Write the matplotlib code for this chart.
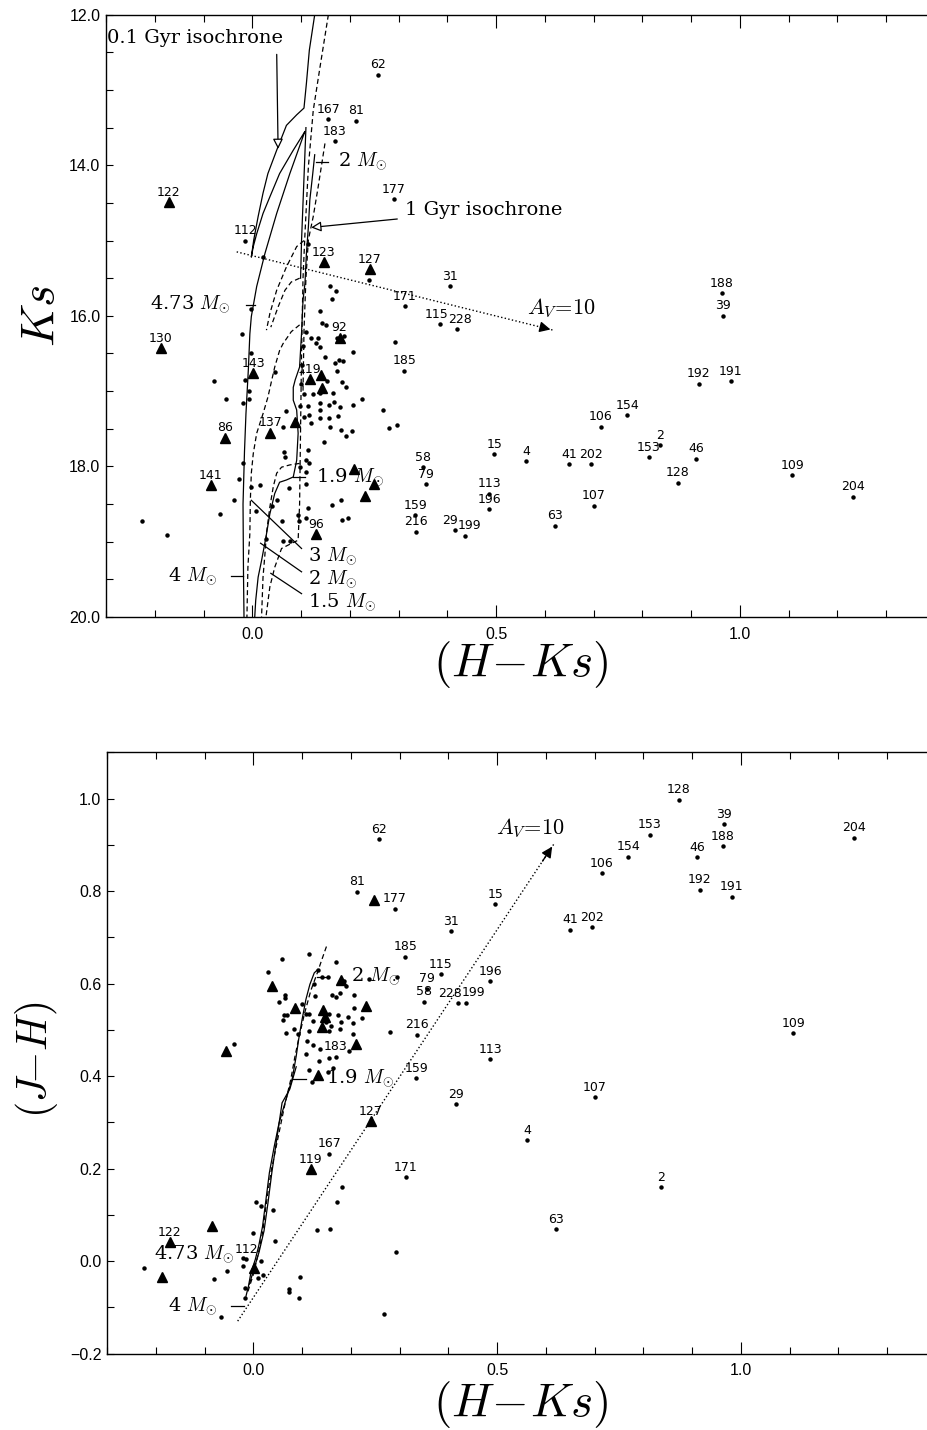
import numpy as np
import matplotlib
matplotlib.use('Agg')
import matplotlib.pyplot as plt
from matplotlib.ticker import MultipleLocator, FuncFormatter

plt.rcParams['mathtext.fontset'] = 'cm'
plt.rcParams['font.family'] = ['Liberation Sans', 'DejaVu Sans']

# labelled stars: id, (H-Ks), Ks, (J-H)  (nan = not labelled in the lower panel)
star_id = ['62', '167', '81', '183', '177', '122', '112', '123', '127', '31',
           '171', '115', '228', '185', '15', '4', '41', '202', '58', '79',
           '113', '196', '107', '63', '159', '216', '29', '199', '106', '154',
           '153', '2', '46', '128', '188', '39', '192', '191', '109', '204',
           '130', '143', '86', '137', '141', '96', '92', '119']
star_hk = [0.258, 0.156, 0.212, 0.169, 0.290, -0.171, -0.014, 0.147, 0.241, 0.405,
           0.313, 0.385, 0.419, 0.312, 0.496, 0.561, 0.650, 0.695, 0.351, 0.357,
           0.486, 0.486, 0.700, 0.621, 0.334, 0.336, 0.416, 0.436, 0.715, 0.769,
           0.813, 0.836, 0.910, 0.873, 0.963, 0.965, 0.916, 0.981, 1.107, 1.231,
           -0.188, 0.002, -0.056, 0.037, -0.085, 0.131, 0.179, 0.118]
star_ks = [12.80, 13.39, 13.41, 13.68, 14.45, 14.49, 15.00, 15.29, 15.38, 15.61,
           15.87, 16.11, 16.18, 16.73, 17.84, 17.93, 17.97, 17.97, 18.01, 18.24,
           18.36, 18.57, 18.52, 18.79, 18.65, 18.87, 18.85, 18.92, 17.47, 17.32,
           17.88, 17.72, 17.90, 18.22, 15.70, 16.00, 16.90, 16.87, 18.12, 18.40,
           16.43, 16.76, 17.62, 17.55, 18.25, 18.90, 16.29, 16.84]
nan = float('nan')
star_jh = [0.912, 0.232, 0.798, 0.442, 0.762, 0.041, 0.004, nan, 0.302, 0.713,
           0.181, 0.620, 0.557, 0.658, 0.771, 0.261, 0.716, 0.722, 0.561, 0.589,
           0.436, 0.605, 0.354, 0.069, 0.395, 0.489, 0.339, 0.558, 0.838, 0.874,
           0.922, 0.159, 0.873, 0.997, 0.897, 0.944, 0.803, 0.788, 0.492, 0.915,
           nan, nan, nan, nan, nan, nan, nan, 0.198]
tri_top = ['122', '123', '127', '130', '143', '92', '119', '86', '137', '141', '96']
tri_bot = ['122', '127', '119']

# unlabelled stars, upper panel (H-Ks, Ks)
top_dots = [(0.021, 15.22), (0.114, 15.04), (0.159, 15.61), (0.171, 15.67), (0.163, 15.78),
            (0.240, 15.53), (-0.003, 15.91), (0.139, 15.94), (0.142, 16.09), (0.152, 16.12),
            (-0.022, 16.24), (-0.002, 16.49), (0.110, 16.22), (0.121, 16.29), (0.135, 16.29),
            (0.130, 16.36), (0.139, 16.41), (0.173, 16.29), (0.181, 16.31), (0.188, 16.27),
            (0.206, 16.48), (0.292, 16.35), (0.150, 16.54), (0.169, 16.62), (0.178, 16.59),
            (0.186, 16.60), (0.173, 16.73), (-0.078, 16.87), (-0.015, 16.85), (0.046, 16.74),
            (0.154, 16.87), (0.183, 16.88), (0.193, 16.94), (-0.007, 17.00), (-0.007, 17.11),
            (-0.054, 17.11), (-0.019, 17.16), (0.106, 17.04), (0.125, 17.04), (0.139, 17.02),
            (0.139, 17.16), (0.166, 17.03), (0.158, 17.18), (0.167, 17.15), (0.180, 17.21),
            (0.206, 17.19), (0.224, 17.11), (0.268, 17.25), (0.281, 17.49), (0.296, 17.45),
            (0.070, 17.27), (0.106, 17.34), (0.115, 17.20), (0.117, 17.32), (0.121, 17.42),
            (0.139, 17.25), (0.139, 17.36), (0.158, 17.36), (0.175, 17.33), (0.159, 17.47),
            (0.182, 17.51), (0.193, 17.59), (0.204, 17.53), (0.147, 17.68), (0.062, 17.47),
            (0.115, 17.78), (0.065, 17.81), (0.067, 17.87), (0.111, 17.92), (0.117, 17.95),
            (0.098, 18.01), (-0.020, 17.95), (-0.027, 18.17), (-0.002, 18.27), (0.015, 18.25),
            (0.076, 18.29), (0.111, 18.08), (0.111, 18.24), (-0.038, 18.45), (-0.067, 18.63),
            (-0.227, 18.73), (-0.175, 18.91), (0.007, 18.59), (0.051, 18.45), (0.060, 18.72),
            (0.096, 18.72), (0.115, 18.55), (0.163, 18.51), (0.181, 18.45), (0.183, 18.71),
            (0.197, 18.69), (0.029, 18.97), (0.062, 18.99), (0.077, 18.99), (0.093, 18.64),
            (0.041, 18.53), (0.111, 18.68), (0.103, 16.40), (0.101, 16.65), (0.099, 16.90),
            (0.097, 17.20)]
top_tris = [(0.140, 16.79), (0.142, 16.96), (0.087, 17.41), (0.209, 18.04), (0.250, 18.24),
            (0.232, 18.39)]

# unlabelled stars, lower panel (H-Ks, J-H)
bot_dots = [(0.115, 0.663), (0.059, 0.654), (0.030, 0.625), (0.170, 0.647), (0.132, 0.629),
            (0.141, 0.614), (0.154, 0.615), (0.125, 0.598), (0.185, 0.606), (0.190, 0.594),
            (0.207, 0.576), (0.177, 0.579), (0.170, 0.571), (0.161, 0.576), (0.127, 0.574),
            (0.064, 0.576), (0.066, 0.568), (0.052, 0.561), (0.100, 0.556), (0.108, 0.535),
            (0.062, 0.532), (0.070, 0.532), (0.060, 0.522), (0.115, 0.535), (0.156, 0.535),
            (0.173, 0.531), (0.194, 0.527), (0.207, 0.548), (0.223, 0.525), (0.122, 0.518),
            (0.149, 0.517), (0.180, 0.517), (0.204, 0.514), (0.159, 0.508), (0.067, 0.494),
            (0.084, 0.501), (0.091, 0.490), (0.115, 0.497), (0.156, 0.497), (0.178, 0.502),
            (0.281, 0.496), (0.204, 0.490), (0.111, 0.475), (0.122, 0.468), (0.137, 0.459),
            (0.196, 0.454), (-0.039, 0.470), (0.135, 0.432), (0.156, 0.439), (0.108, 0.447),
            (0.237, 0.609), (0.295, 0.615), (0.115, 0.414), (0.120, 0.387), (0.153, 0.409),
            (0.163, 0.418), (0.005, 0.127), (0.015, 0.119), (0.041, 0.110), (-0.001, 0.061),
            (0.045, 0.044), (-0.022, 0.007), (-0.021, -0.011), (-0.053, -0.021), (-0.080, -0.039),
            (0.019, -0.031), (0.009, -0.036), (0.016, -0.001), (0.096, -0.035), (0.074, -0.060),
            (0.074, -0.067), (0.093, -0.081), (-0.016, -0.058), (-0.018, -0.080), (-0.066, -0.122),
            (-0.225, -0.016), (0.181, 0.160), (0.172, 0.127), (0.131, 0.067), (0.158, 0.069),
            (0.293, 0.019), (0.269, -0.114)]
bot_tris = [(0.038, 0.594), (0.086, 0.548), (0.142, 0.543), (0.147, 0.528), (0.141, 0.507),
            (0.180, 0.607), (0.231, 0.551), (0.211, 0.470), (0.248, 0.780), (-0.056, 0.455),
            (0.132, 0.403), (-0.084, 0.075), (-0.187, -0.035), (0.002, -0.015)]

# model curves, upper panel (H-Ks, Ks)
iso01 = [(-0.017, 20.0), (-0.018, 19.46), (-0.019, 18.5), (-0.016, 17.8), (-0.013, 17.3),
         (-0.008, 16.7), (-0.005, 16.24), (-0.002, 16.01), (0.009, 15.61), (0.026, 15.17),
         (0.050, 14.64), (0.077, 14.11), (0.104, 13.62), (0.108, 13.55), (0.084, 13.80),
         (0.056, 14.11), (0.036, 14.42), (0.022, 14.64), (0.009, 14.91), (0.002, 15.08),
         (-0.002, 15.22), (0.003, 14.99), (0.012, 14.68), (0.022, 14.37), (0.032, 14.11),
         (0.050, 13.80), (0.070, 13.47), (0.091, 13.33), (0.106, 13.24), (0.111, 12.91),
         (0.117, 12.47), (0.128, 12.0)]
iso01_b = [(0.110, 13.50), (0.107, 14.0), (0.104, 14.5), (0.101, 15.0), (0.099, 15.5)]
iso1 = [(0.128, 13.86), (0.124, 14.11), (0.118, 14.46), (0.115, 14.82), (0.111, 15.17),
        (0.108, 15.57), (0.104, 15.79), (0.101, 16.23), (0.097, 16.68), (0.088, 16.85),
        (0.084, 16.95), (0.084, 17.12), (0.091, 17.25), (0.094, 17.56), (0.091, 17.92),
        (0.084, 18.14), (0.070, 18.18), (0.056, 18.21), (0.046, 18.36), (0.036, 18.63),
        (0.028, 18.94), (0.019, 19.25), (0.012, 19.47), (0.007, 19.78), (0.005, 20.0)]
dash_a = [(0.106, 15.0), (0.091, 15.08), (0.070, 15.35), (0.050, 15.66), (0.036, 15.97),
          (0.029, 16.19)]
dash_b = [(0.097, 15.50), (0.080, 15.55), (0.067, 15.66), (0.053, 15.88), (0.043, 16.06),
          (0.038, 16.15)]
dash_c = [(0.097, 16.12), (0.080, 16.21), (0.063, 16.37), (0.056, 16.46), (0.046, 16.68),
          (0.040, 16.85), (0.032, 17.08), (0.022, 17.30), (0.009, 17.56), (0.002, 17.83),
          (-0.002, 18.09), (-0.004, 18.45), (-0.005, 18.89), (-0.009, 19.34), (-0.011, 20.0)]
dash_d = [(0.097, 17.96), (0.077, 17.98), (0.060, 18.01), (0.050, 18.09), (0.043, 18.27),
          (0.036, 18.54), (0.029, 18.89), (0.026, 19.16), (0.022, 19.47), (0.019, 20.0)]
dash_e = [(0.156, 12.0), (0.139, 12.69), (0.125, 13.27), (0.115, 14.02), (0.108, 14.91),
          (0.104, 15.5), (0.101, 16.5), (0.099, 17.5), (0.097, 18.5), (0.094, 18.98),
          (0.081, 19.02), (0.060, 19.09), (0.046, 19.34), (0.036, 19.60), (0.028, 20.0)]
dash_f = [(0.149, 13.71), (0.135, 14.29), (0.125, 14.68), (0.115, 14.99), (0.110, 15.5),
          (0.106, 16.2), (0.104, 17.0)]

# model curves, lower panel (H-Ks, J-H)
bot_solid_a = [(0.132, 0.630), (0.125, 0.623), (0.116, 0.598), (0.108, 0.566), (0.100, 0.522),
               (0.093, 0.479), (0.088, 0.443), (0.080, 0.395), (0.067, 0.349), (0.053, 0.299),
               (0.043, 0.248), (0.033, 0.191), (0.026, 0.133), (0.019, 0.075), (0.011, 0.032),
               (0.004, 0.003), (-0.005, -0.026), (-0.010, -0.055), (-0.015, -0.076)]
bot_solid_b = [(0.088, 0.420), (0.075, 0.372), (0.059, 0.342), (0.048, 0.263), (0.038, 0.191),
               (0.030, 0.125), (0.022, 0.065), (0.012, 0.020), (0.002, -0.015), (-0.008, -0.050)]
bot_dash = [(0.150, 0.680), (0.140, 0.650), (0.132, 0.625), (0.118, 0.585), (0.105, 0.535),
            (0.093, 0.480), (0.085, 0.440), (0.077, 0.393), (0.064, 0.335), (0.050, 0.263),
            (0.036, 0.191), (0.026, 0.119), (0.019, 0.061), (0.009, 0.010), (-0.001, -0.033),
            (-0.012, -0.069)]

# reddening vectors (start, tip)
red_top = [(-0.032, 15.15), (0.617, 16.19)]
red_bot = [(-0.032, -0.130), (0.616, 0.901)]

MSUN = r' $M_{\odot}$'
SERIF = 'DejaVu Serif'
DASH = (0, (4, 2.5))
# small sideways shifts (pixels) for crowded id labels
nudge_top = {'115': -3, '228': 3, '29': -5, '199': 5}
nudge_bot = {'228': -8, '199': 8}

W, H = 928.0, 1430.0
fig = plt.figure(figsize=(W / 100, H / 100), dpi=100)
ax1 = fig.add_axes([106 / W, 1 - 617 / H, (935 - 106) / W, (617 - 14.7) / H])
ax2 = fig.add_axes([107 / W, 1 - 1353.5 / H, (936 - 107) / W, (1353.5 - 752.3) / H])

fmt = FuncFormatter(lambda v, p: ('%.1f' % v).replace('-', '\u2212'))


def style(ax):
    ax.set_xlim(-0.3, 1.4)
    ax.xaxis.set_major_locator(MultipleLocator(0.5))
    ax.xaxis.set_minor_locator(MultipleLocator(0.1))
    ax.xaxis.set_major_formatter(fmt)
    ax.yaxis.set_major_formatter(fmt)
    ax.tick_params(which='both', direction='in', top=True, right=True,
                   labelsize=11.5, width=0.8)
    ax.tick_params(axis='x', which='major', length=9, pad=7)
    ax.tick_params(axis='x', which='minor', length=5)
    ax.tick_params(axis='y', which='both', length=5, pad=4)
    for s in ax.spines.values():
        s.set_linewidth(1.0)


def line(ax, pts, ls='-'):
    p = np.array(pts)
    ax.plot(p[:, 0], p[:, 1], color='k', lw=0.9, ls=ls)


def marks(ax, pts, tri=False):
    p = np.array(pts)
    if tri:
        ax.plot(p[:, 0], p[:, 1], '^', color='k', ms=6.5, ls='none')
    else:
        ax.plot(p[:, 0], p[:, 1], 'o', color='k', ms=2.2, ls='none')


def mass_tick(ax, x0, x1, y, label, tx, ha):
    ax.plot([x0, x1], [y, y], color='k', lw=0.9)
    ax.text(tx, y, label, ha=ha, va='center', fontsize=14, family=SERIF)


def red_arrow(ax, pts):
    (x0, y0), (x1, y1) = pts
    ax.plot([x0, x1], [y0, y1], color='k', lw=1.0, ls=':')
    f = 0.96
    ax.annotate('', xy=(x1, y1), xytext=(x0 + f * (x1 - x0), y0 + f * (y1 - y0)),
                arrowprops=dict(arrowstyle='-|>', color='k', lw=1.0, mutation_scale=16))


def star_labels(ax, ys, tris, nudge):
    for sid, x, y in zip(star_id, star_hk, ys):
        if np.isnan(y):
            continue
        if sid in tris:
            ax.plot(x, y, '^', color='k', ms=6.5)
        else:
            ax.plot(x, y, 'o', color='k', ms=2.2)
        ax.annotate(sid, (x, y), xytext=(nudge.get(sid, 0), 10), textcoords='offset pixels',
                    ha='center', va='center', fontsize=9, family='DejaVu Sans')


# ---------------- upper panel: Ks vs (H-Ks)
style(ax1)
ax1.set_ylim(20, 12)
ax1.yaxis.set_major_locator(MultipleLocator(2))
ax1.yaxis.set_minor_locator(MultipleLocator(0.5))

for c in [iso01, iso01_b, iso1]:
    line(ax1, c)
for c in [dash_a, dash_b, dash_c, dash_d, dash_e, dash_f]:
    line(ax1, c, DASH)

marks(ax1, top_dots)
marks(ax1, top_tris, tri=True)
star_labels(ax1, star_ks, tri_top, nudge_top)

red_arrow(ax1, red_top)
ax1.text(0.634, 15.90, r'$A_V\!=\!10$', ha='center', va='center', fontsize=16)

mass_tick(ax1, 0.130, 0.155, 13.95, '2' + MSUN, 0.175, 'left')
mass_tick(ax1, -0.012, 0.005, 15.85, '4.73' + MSUN, -0.046, 'right')
mass_tick(ax1, 0.084, 0.108, 18.14, '1.9' + MSUN, 0.130, 'left')
mass_tick(ax1, -0.044, -0.020, 19.46, '4' + MSUN, -0.071, 'right')

for (xa, ya), (xb, yb), lab, ty in [((-0.002, 18.45), (0.101, 19.09), '3' + MSUN, 19.20),
                                    ((0.017, 19.02), (0.101, 19.40), '2' + MSUN, 19.50),
                                    ((0.038, 19.42), (0.101, 19.69), '1.5' + MSUN, 19.80)]:
    ax1.plot([xa, xb], [ya, yb], color='k', lw=0.9)
    ax1.text(0.115, ty, lab, ha='left', va='center', fontsize=14, family=SERIF)

ax1.text(-0.297, 12.31, '0.1 Gyr isochrone', ha='left', va='center', fontsize=14, family=SERIF)
ax1.annotate('', xy=(0.053, 13.82), xytext=(0.050, 12.49),
             arrowprops=dict(arrowstyle='-|>', fc='white', ec='k', lw=0.9, mutation_scale=15))
ax1.text(0.313, 14.60, '1 Gyr isochrone', ha='left', va='center', fontsize=14, family=SERIF)
ax1.annotate('', xy=(0.115, 14.83), xytext=(0.303, 14.71),
             arrowprops=dict(arrowstyle='-|>', fc='white', ec='k', lw=0.9, mutation_scale=15))

# ---------------- lower panel: (J-H) vs (H-Ks)
style(ax2)
ax2.set_ylim(-0.2, 1.1)
ax2.yaxis.set_major_locator(MultipleLocator(0.2))
ax2.yaxis.set_minor_locator(MultipleLocator(0.1))

line(ax2, bot_solid_a)
line(ax2, bot_solid_b)
line(ax2, bot_dash, DASH)

marks(ax2, bot_dots)
marks(ax2, bot_tris, tri=True)
star_labels(ax2, star_jh, tri_bot, nudge_bot)

red_arrow(ax2, red_bot)
ax2.text(0.568, 0.935, r'$A_V\!=\!10$', ha='center', va='center', fontsize=16)

mass_tick(ax2, 0.130, 0.156, 0.615, '2' + MSUN, 0.200, 'left')
mass_tick(ax2, 0.082, 0.108, 0.394, '1.9' + MSUN, 0.149, 'left')
mass_tick(ax2, -0.045, -0.020, -0.098, '4' + MSUN, -0.074, 'right')
ax2.text(-0.039, 0.014, '4.73' + MSUN, ha='right', va='center', fontsize=14, family=SERIF)

# axis titles
fig.text(520 / W, 1 - 665 / H, r'$(H\!-\!Ks)$', ha='center', va='center', fontsize=34)
fig.text(520 / W, 1 - 1405 / H, r'$(H\!-\!Ks)$', ha='center', va='center', fontsize=34)
fig.text(42 / W, 1 - 316 / H, r'$Ks$', ha='center', va='center', fontsize=34, rotation=90)
fig.text(37 / W, 1 - 1060 / H, r'$(J\!\!-\!H)$', ha='center', va='center', fontsize=30, rotation=90)

fig.savefig('out.png', dpi=100)
